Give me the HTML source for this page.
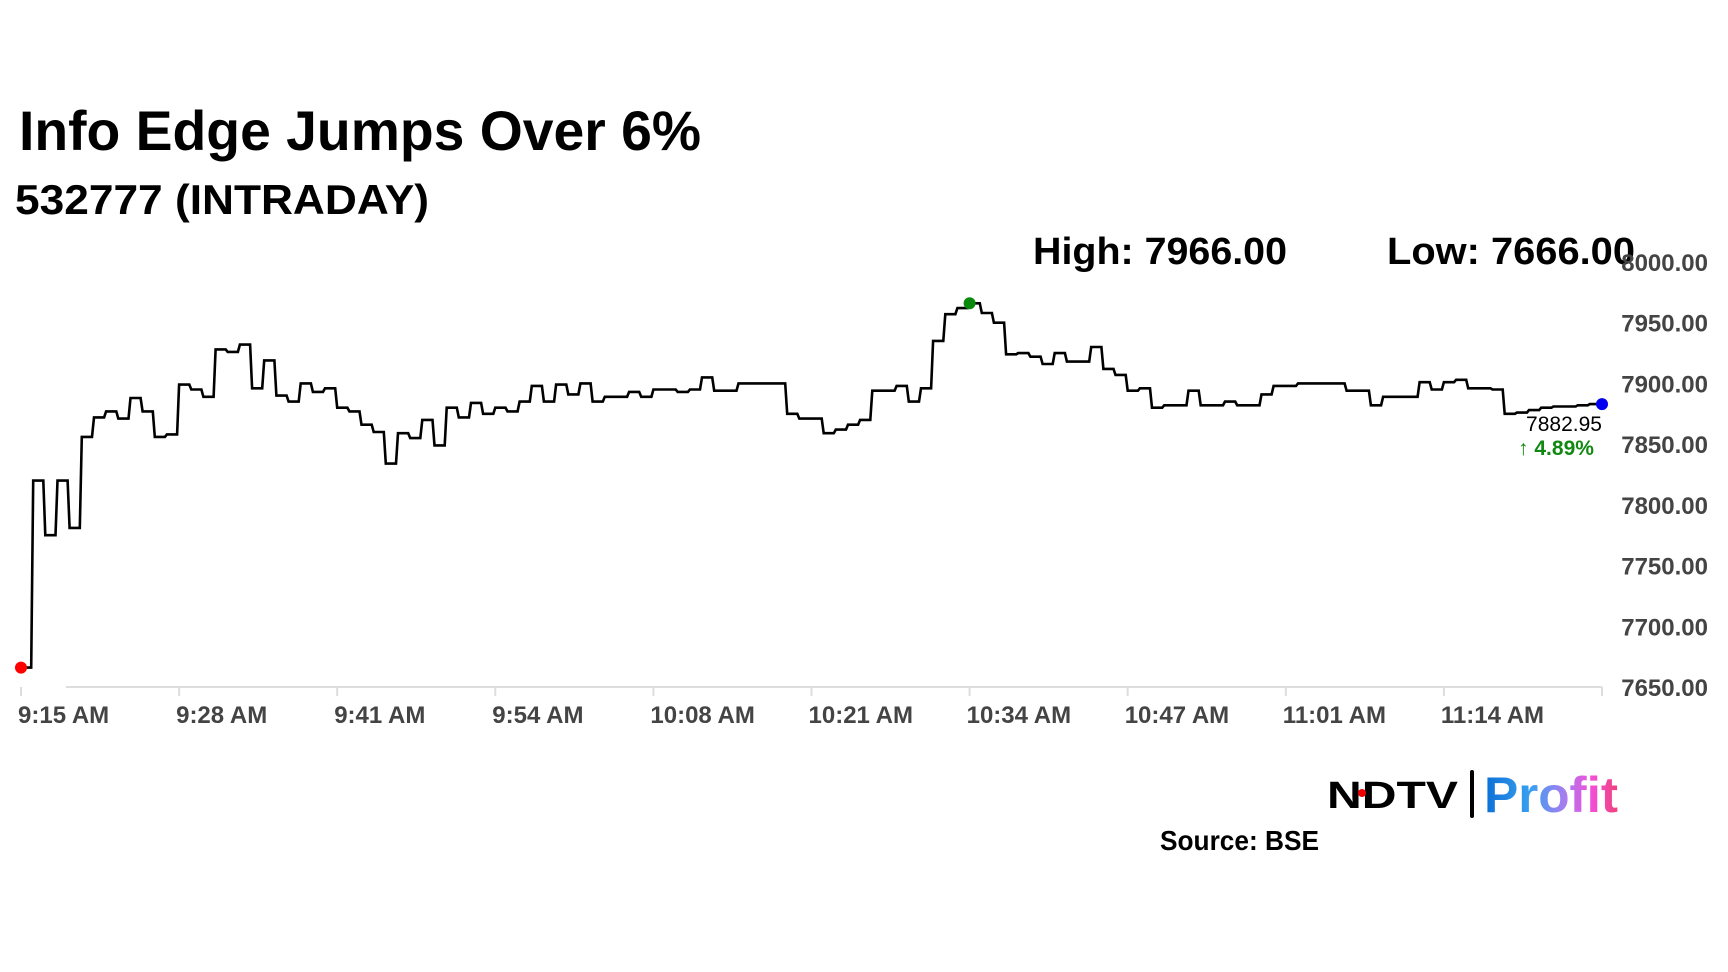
<!DOCTYPE html>
<html><head><meta charset="utf-8"><style>
html,body{margin:0;padding:0;background:#fff;}
svg{display:block;}
</style></head><body>
<svg id="chart" width="1728" height="972" viewBox="0 0 1728 972" xmlns="http://www.w3.org/2000/svg">
<defs>
<linearGradient id="pg" x1="0" x2="1" y1="0" y2="0">
<stop offset="0" stop-color="#0a6fd6"/><stop offset="0.35" stop-color="#3aa0f0"/><stop offset="0.6" stop-color="#a77cf0"/><stop offset="0.8" stop-color="#f24fd8"/><stop offset="1" stop-color="#f0407a"/>
</linearGradient>
</defs>
<text x="19" y="150" font-family="Liberation Sans, sans-serif" font-weight="bold" font-size="56" textLength="682" lengthAdjust="spacingAndGlyphs" fill="#000">Info Edge Jumps Over 6%</text>
<text x="15" y="214" font-family="Liberation Sans, sans-serif" font-weight="bold" font-size="42" textLength="414" lengthAdjust="spacingAndGlyphs" fill="#000">532777 (INTRADAY)</text>
<text x="1033" y="264" font-family="Liberation Sans, sans-serif" font-weight="bold" font-size="38" textLength="254" lengthAdjust="spacingAndGlyphs" fill="#000">High: 7966.00</text>
<text x="1387" y="264" font-family="Liberation Sans, sans-serif" font-weight="bold" font-size="38" textLength="248" lengthAdjust="spacingAndGlyphs" fill="#000">Low: 7666.00</text>
<g id="axes"></g>
<g id="series"></g>
<text x="1564" y="431" text-anchor="middle" font-family="Liberation Sans, sans-serif" font-size="21" fill="#000">7882.95</text>
<text x="1556" y="455" text-anchor="middle" font-family="Liberation Sans, sans-serif" font-weight="bold" font-size="21" fill="#118811">↑ 4.89%</text>
<g>
<text x="1327" y="808" font-family="Liberation Sans, sans-serif" font-weight="bold" font-size="38" textLength="131" lengthAdjust="spacingAndGlyphs" fill="#000">NDTV</text>
<circle cx="1362" cy="793" r="4" fill="#e00"/>
<rect x="1470" y="770" width="4" height="48" rx="2" fill="#000"/>
<text x="1484" y="812" font-family="Liberation Sans, sans-serif" font-weight="bold" font-size="50" textLength="134" lengthAdjust="spacingAndGlyphs" fill="url(#pg)">Profit</text>
</g>
<text x="1160" y="850" font-family="Liberation Sans, sans-serif" font-weight="bold" font-size="28" textLength="159" lengthAdjust="spacingAndGlyphs" fill="#000">Source: BSE</text>
</svg>
<script>
const prices = [7666,7820,7775,7820,7781,7856,7872,7877,7871,7888,7877,7856,7858,7899,7895,7889,7928,7926,7932,7896,7919,7890,7885,7900,7893,7896,7880,7877,7866,7860,7834,7859,7855,7870,7849,7880,7872,7884,7875,7880,7877,7885,7898,7885,7899,7891,7900,7885,7889,7889,7893,7889,7895,7895,7893,7895,7905,7894,7894,7900,7900,7900,7900,7875,7871,7871,7859,7862,7866,7870,7894,7894,7898,7885,7896,7935,7957,7962,7966,7958,7950,7924,7925,7922,7916,7925,7918,7918,7930,7912,7907,7894,7896,7880,7882,7882,7894,7882,7882,7885,7882,7882,7891,7898,7898,7900,7900,7900,7900,7894,7894,7882,7889,7889,7889,7901,7895,7901,7903,7896,7896,7895,7875,7876,7878,7880,7881,7881,7882,7883,7882.95];
const yTicks = [8000,7950,7900,7850,7800,7750,7700,7650];
const xTickLabels = ["9:15 AM","9:28 AM","9:41 AM","9:54 AM","10:08 AM","10:21 AM","10:34 AM","10:47 AM","11:01 AM","11:14 AM"];
const xTickMinutes = [0,13,26,39,52,65,78,91,104,117,130];
const highIndex = 78;

const NS = "http://www.w3.org/2000/svg";
const X0 = 21, X1 = 1602, MAXMIN = 130;
const Y0 = 687, Y1 = 262, VMIN = 7650, VMAX = 8000;
function xs(m){ return X0 + (X1 - X0) * m / MAXMIN; }
function ys(v){ return Y0 - (Y0 - Y1) * (v - VMIN) / (VMAX - VMIN); }
function mk(tag, attrs){ const e = document.createElementNS(NS, tag); for (const k in attrs) e.setAttribute(k, attrs[k]); return e; }

const axes = document.getElementById('axes');
const base = mk('line', {x1: 66, x2: X1, y1: Y0, y2: Y0, stroke: '#dddddd', 'stroke-width': 2});


axes.appendChild(base);
xTickMinutes.forEach((m, i) => {
  const t = mk('line', {x1: xs(m), x2: xs(m), y1: Y0, y2: Y0 + 9, stroke: '#dddddd', 'stroke-width': 2});
  
  
  axes.appendChild(t);
  if (i < xTickLabels.length) {
    const l = mk('text', {x: xs(m) - 3, y: 723, 'font-family': 'Liberation Sans, sans-serif', 'font-weight': 'bold', 'font-size': 24, fill: '#444'});
    l.textContent = xTickLabels[i];
    
    
    axes.appendChild(l);
  }
});
yTicks.forEach(v => {
  const l = mk('text', {x: 1708, y: ys(v) + 9, 'text-anchor': 'end', 'font-family': 'Liberation Sans, sans-serif', 'font-weight': 'bold', 'font-size': 24, fill: '#444'});
  l.textContent = v.toFixed(2);
  
  
  axes.appendChild(l);
});

const series = document.getElementById('series');
let d = 'M' + xs(0).toFixed(1) + ',' + ys(prices[0]).toFixed(1);
for (let i = 1; i < prices.length; i++) {
  d += ' L' + (xs(i) - 2).toFixed(1) + ',' + ys(prices[i-1]).toFixed(1) + ' L' + xs(i).toFixed(1) + ',' + ys(prices[i]).toFixed(1);
}
const path = mk('path', {d: d, fill: 'none', stroke: '#000', 'stroke-width': 2.6, 'stroke-linejoin': 'miter'});


series.appendChild(path);
const openDot = mk('circle', {cx: xs(0), cy: ys(prices[0]), r: 6, fill: '#ff0000'});


series.appendChild(openDot);
const highDot = mk('circle', {cx: xs(highIndex), cy: ys(prices[highIndex]), r: 6, fill: '#0a8a0a'});


series.appendChild(highDot);
const last = prices.length - 1;
const lastDot = mk('circle', {cx: xs(last), cy: ys(prices[last]), r: 6, fill: '#0000ee'});


series.appendChild(lastDot);
</script>
</body></html>
